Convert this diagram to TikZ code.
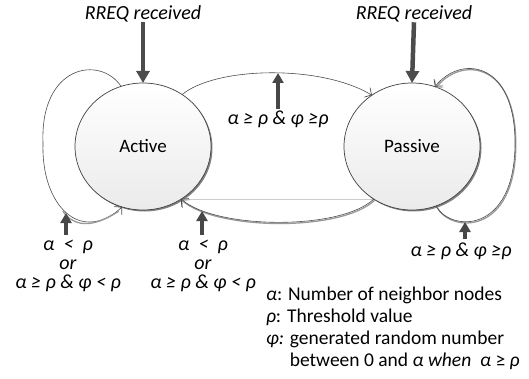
\documentclass[tikz,border=0pt]{standalone}
\usepackage{fontspec}
\setmainfont{Carlito}
\usetikzlibrary{arrows.meta,shapes.geometric,shadows}
\begin{document}
\begin{tikzpicture}[x=1pt,y=-1pt,
  every node/.style={inner sep=0pt, outer sep=0pt},
  lbl/.style={font=\fontsize{20}{19}\selectfont\itshape, align=center},
  legendtext/.style={font=\fontsize{19.5}{22}\selectfont, align=left},
  state/.style={ellipse, draw=black!75, line width=0.7pt, minimum width=136pt, minimum height=127pt,
    top color=white, bottom color=black!8, font=\fontsize{19}{22}\selectfont,
    drop shadow={shadow xshift=1.5pt, shadow yshift=-1.5pt, fill=black!55, opacity=0.9}},
  trans/.style={draw=black!70, line width=0.6pt, -{Straight Barb[length=5pt,width=11pt,line width=0.7pt]}},
  shade/.style={preaction={draw=black!40, line width=1.3pt, transform canvas={shift={(0.8pt,-1.2pt)}}}},
  bigarrow/.style={draw=black!70, line width=4.5pt, -{Triangle[length=12pt,width=13pt]}},
  smallarrow/.style={draw=black!72, line width=3.2pt, -{Triangle[length=10pt,width=11pt]}},
]
\useasboundingbox (0,0) rectangle (529,379);

% states
\node[state] (A) at (143,146.5) {Active};
\node[state] (P) at (412,146.5) {Passive};

% RREQ inputs
\node[lbl] (rreqA) at (143,14) {RREQ received};
\node[lbl] (rreqP) at (414,14) {RREQ received};
\draw[bigarrow] (rreqA.south) -- (A.north);
\draw[bigarrow] (rreqP.south) -- (P.north);

% faint straight line between the states
\draw[black!20, line width=0.6pt] (A.306) -- (P.234);

% Active -> Passive (top arc)
\draw[trans] (A.53) .. controls (215,67) and (320,64) .. (P.128);
\coordinate (tla) at (278,73);
\node[lbl, anchor=north] (tl) at (278,111) {α ≥ ρ \& φ ≥ρ};
\draw[smallarrow] ([yshift=2pt]tl.north) -- (tla);

% Passive -> Active (bottom arc)
\draw[trans, shade] (P.234) .. controls (340,231) and (215,229) .. (A.306);
\coordinate (bca) at (202,211);
\node[lbl, anchor=north] (ml) at (203,240) {α \ < \ ρ\\or\\α ≥ ρ \& φ < ρ};
\draw[smallarrow] ([yshift=5pt]bca |- ml.north) -- (bca);

% Active self loop
\draw[trans] (A.110) .. controls (100,55) and (40,65) .. (43,143) .. controls (41,205) and (80,245) .. (A.251);
\draw[black!40, line width=1.3pt, transform canvas={shift={(0.8pt,-1.2pt)}}] (62,210) .. controls (75,228) and (95,225) .. (118,210);
\coordinate (lla) at (66,213);
\node[lbl, anchor=north] (ll) at (68,240) {α \ < \ ρ\\or\\α ≥ ρ \& φ < ρ};
\draw[smallarrow] ([yshift=5pt]lla |- ll.north) -- (lla);

% Passive self loop
\draw[trans, shade] (P.292) .. controls (450,232) and (515,235) .. (515,143) .. controls (515,60) and (460,55) .. (P.69);
\coordinate (rla) at (465,222);
\node[lbl, anchor=north] (rl) at (461,243) {α ≥ ρ \& φ ≥ρ};
\draw[smallarrow] ([yshift=4pt]rla |- rl.north) -- (rla);

% legend
\node[legendtext, anchor=north west] (leg) at (266,287)
  {\textit{α}: Number of neighbor nodes\\
   \textit{ρ}: Threshold value\\
   \textit{φ:} generated random number\\
   \phantom{\textit{φ:} }between 0 and \textit{α when} \ \textit{α} ≥ \textit{ρ}};
\end{tikzpicture}
\end{document}
